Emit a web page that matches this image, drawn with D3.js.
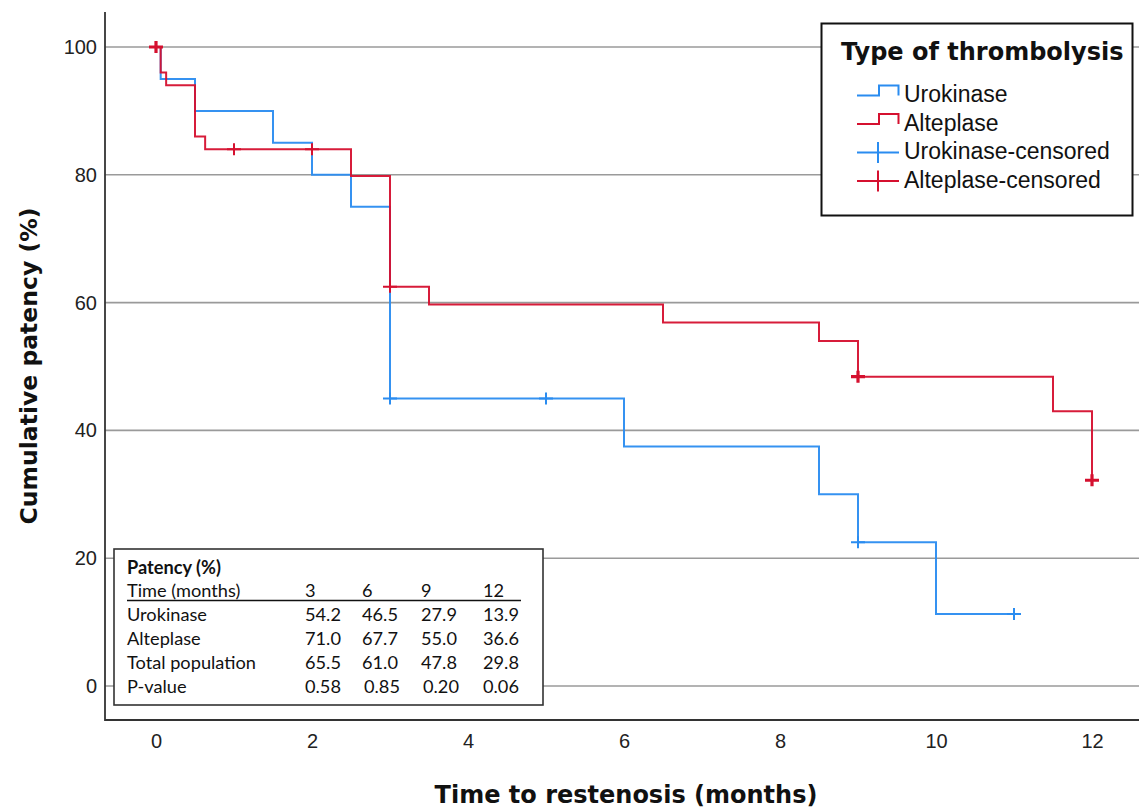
<!DOCTYPE html>
<html>
<head>
<meta charset="utf-8">
<script src="https://cdn.jsdelivr.net/npm/d3@7"></script>
<style>
  body { margin: 0; background: #fff; }
  svg { display: block; }
</style>
</head>
<body>
<svg id="chart"></svg>
<script>
// Kaplan-Meier steps (time in months, patency in %)
const urokinaseTimes = [0, 0.06, 0.5, 1.5, 2, 2.5, 3, 6, 8.5, 9, 10, 11];
const urokinaseSurv = [100, 95, 90, 85, 80, 75, 45, 37.5, 30, 22.5, 11.25, 11.25];
const urokinaseCensorTimes = [3, 5, 9, 11];
const urokinaseCensorCounts = [1, 1, 1, 1];

const alteplaseTimes = [0, 0.06, 0.13, 0.5, 0.63, 2.5, 3, 3.5, 6.5, 8.5, 9, 11.5, 12];
const alteplaseSurv = [100, 96, 94, 86, 84, 79.8, 62.5, 59.7, 56.9, 54, 48.4, 43, 32.2];
const alteplaseCensorTimes = [0, 1, 2, 3, 9, 12];
const alteplaseCensorCounts = [2, 1, 1, 1, 2, 2];

const timeTicks = [0, 2, 4, 6, 8, 10, 12];
const patencyTicks = [0, 20, 40, 60, 80, 100];

const legendLabels = ["Urokinase", "Alteplase", "Urokinase-censored", "Alteplase-censored"];

// inset table
const tableTitle = "Patency (%)";
const tableHeader = "Time (months)";
const tableMonths = ["3", "6", "9", "12"];
const tableRowNames = ["Urokinase", "Alteplase", "Total population", "P-value"];
const urokinaseRates = ["54.2", "46.5", "27.9", "13.9"];
const alteplaseRates = ["71.0", "67.7", "55.0", "36.6"];
const totalRates = ["65.5", "61.0", "47.8", "29.8"];
const pValues = ["0.58", "0.85", "0.20", "0.06"];

const BLUE = "#2a8cf0";
const RED = "#d5102f";

const W = 1139, H = 810;
const svg = d3.select("#chart").attr("width", W).attr("height", H);

const frame = { left: 105, top: 12, right: 1139, bottom: 720 };

const x = d3.scaleLinear().domain([0, 12]).range([156, 1092]);
const y = d3.scaleLinear().domain([0, 100]).range([686, 47]);

// grid lines
svg.append("g").selectAll("line")
  .data(patencyTicks)
  .join("line")
  .attr("x1", frame.left).attr("x2", frame.right)
  .attr("y1", d => y(d)).attr("y2", d => y(d))
  .attr("stroke", "#9a9a9a").attr("stroke-width", 1.6);

// axes (no tick marks, labels only)
const yAxis = svg.append("g")
  .attr("transform", `translate(${frame.left},0)`)
  .call(d3.axisLeft(y).tickValues(patencyTicks).tickSize(0).tickPadding(8));
yAxis.select(".domain").remove();
yAxis.selectAll("text")
  .attr("font-family", "Liberation Sans, Arial, sans-serif")
  .attr("font-size", 20).attr("fill", "#222");

const xAxis = svg.append("g")
  .attr("transform", `translate(0,${frame.bottom})`)
  .call(d3.axisBottom(x).tickValues(timeTicks).tickSize(0).tickPadding(14));
xAxis.select(".domain").remove();
xAxis.selectAll("text")
  .attr("font-family", "Liberation Sans, Arial, sans-serif")
  .attr("font-size", 20).attr("fill", "#222");

// frame lines
svg.append("path")
  .attr("d", `M${frame.left},${frame.top}V${frame.bottom}H${frame.right}`)
  .attr("fill", "none").attr("stroke", "#333").attr("stroke-width", 1.8);

// axis titles
svg.append("text")
  .attr("x", 626).attr("y", 803)
  .attr("text-anchor", "middle")
  .attr("font-family", "DejaVu Sans, sans-serif")
  .attr("font-weight", "bold").attr("font-size", 24)
  .attr("fill", "#111")
  .text("Time to restenosis (months)");

svg.append("text")
  .attr("transform", "translate(37,366) rotate(-90)")
  .attr("text-anchor", "middle")
  .attr("font-family", "DejaVu Sans, sans-serif")
  .attr("font-weight", "bold").attr("font-size", 23.5)
  .attr("fill", "#111")
  .text("Cumulative patency (%)");

// survival curves
const stepLine = d3.line()
  .x(d => x(d[0])).y(d => y(d[1]))
  .curve(d3.curveStepAfter);

function survAt(times, surv, t) {
  let v = surv[0];
  times.forEach((tt, i) => { if (tt <= t) v = surv[i]; });
  return v;
}

const groups = [
  { times: urokinaseTimes, surv: urokinaseSurv, cens: urokinaseCensorTimes, counts: urokinaseCensorCounts, color: BLUE },
  { times: alteplaseTimes, surv: alteplaseSurv, cens: alteplaseCensorTimes, counts: alteplaseCensorCounts, color: RED }
];

groups.forEach(g => {
  const pts = g.times.map((t, i) => [t, g.surv[i]]);
  svg.append("path")
    .datum(pts)
    .attr("d", stepLine)
    .attr("fill", "none")
    .attr("stroke", g.color)
    .attr("stroke-width", 2)
    .attr("stroke-opacity", 0.95);

  const marks = g.cens.map((t, i) => ({ t: t, v: survAt(g.times, g.surv, t), n: g.counts[i] }));
  svg.append("g").selectAll("path")
    .data(marks)
    .join("path")
    .attr("d", d => {
      const cx = x(d.t), cy = y(d.v);
      return `M${cx - 7},${cy}H${cx + 7}M${cx},${cy - 6}V${cy + 6}`;
    })
    .attr("stroke", g.color)
    .attr("stroke-width", d => d.n > 1 ? 3.2 : 2)
    .attr("fill", "none");
});

// legend
const legend = svg.append("g");
legend.append("rect")
  .attr("x", 821.5).attr("y", 23.5)
  .attr("width", 311).attr("height", 192)
  .attr("fill", "#fff").attr("stroke", "#111").attr("stroke-width", 2);
legend.append("text")
  .attr("x", 841).attr("y", 60)
  .attr("font-family", "DejaVu Sans, sans-serif")
  .attr("font-weight", "bold").attr("font-size", 24)
  .attr("fill", "#111")
  .text("Type of thrombolysis");

const legendColors = [BLUE, RED, BLUE, RED];
const legendRowY = [95.5, 124, 152.5, 181];
legendLabels.forEach((lab, i) => {
  const ly = legendRowY[i];
  const c = legendColors[i];
  if (i < 2) {
    legend.append("path")
      .attr("d", `M857,${ly}H879V${ly - 10}H898.5V${ly}`)
      .attr("fill", "none").attr("stroke", c).attr("stroke-width", 2);
  } else {
    legend.append("path")
      .attr("d", `M857,${ly}H899M878,${ly - 10.5}V${ly + 10.5}`)
      .attr("fill", "none").attr("stroke", c).attr("stroke-width", 2);
  }
  legend.append("text")
    .attr("x", 904).attr("y", ly + 6.8)
    .attr("font-family", "Liberation Sans, Arial, sans-serif")
    .attr("font-size", 23).attr("fill", "#111")
    .text(lab);
});

// inset table
const tbl = svg.append("g");
tbl.append("rect")
  .attr("x", 114).attr("y", 549)
  .attr("width", 429).attr("height", 156)
  .attr("fill", "#fff").attr("stroke", "#333").attr("stroke-width", 1.6);

const tFont = "Lato, Carlito, Calibri, sans-serif";
const tSize = 18.2;
const colX = [305, 362, 421, 483];
const pShift = [0, 2, 2, 0];

tbl.append("text")
  .attr("x", 127).attr("y", 574)
  .attr("font-family", tFont).attr("font-weight", "bold").attr("font-size", tSize)
  .attr("fill", "#111")
  .text(tableTitle);

tbl.append("text")
  .attr("x", 127).attr("y", 597)
  .attr("font-family", tFont).attr("font-size", tSize).attr("fill", "#111")
  .text(tableHeader);
tbl.selectAll("text.month")
  .data(tableMonths)
  .join("text")
  .attr("class", "month")
  .attr("x", (d, i) => colX[i]).attr("y", 597)
  .attr("font-family", tFont).attr("font-size", tSize).attr("fill", "#111")
  .text(d => d);
tbl.append("line")
  .attr("x1", 127).attr("x2", 521)
  .attr("y1", 600.5).attr("y2", 600.5)
  .attr("stroke", "#111").attr("stroke-width", 1.6);

const tableValues = [urokinaseRates, alteplaseRates, totalRates, pValues];
tableRowNames.forEach((name, r) => {
  const by = 621 + r * 24;
  tbl.append("text")
    .attr("x", 127).attr("y", by)
    .attr("font-family", tFont).attr("font-size", tSize).attr("fill", "#111")
    .text(name);
  tbl.append("g").selectAll("text")
    .data(tableValues[r])
    .join("text")
    .attr("x", (d, i) => colX[i] + (r === 3 ? pShift[i] : 0)).attr("y", by)
    .attr("font-family", tFont).attr("font-size", tSize).attr("fill", "#111")
    .text(d => d);
});
</script>
</body>
</html>
